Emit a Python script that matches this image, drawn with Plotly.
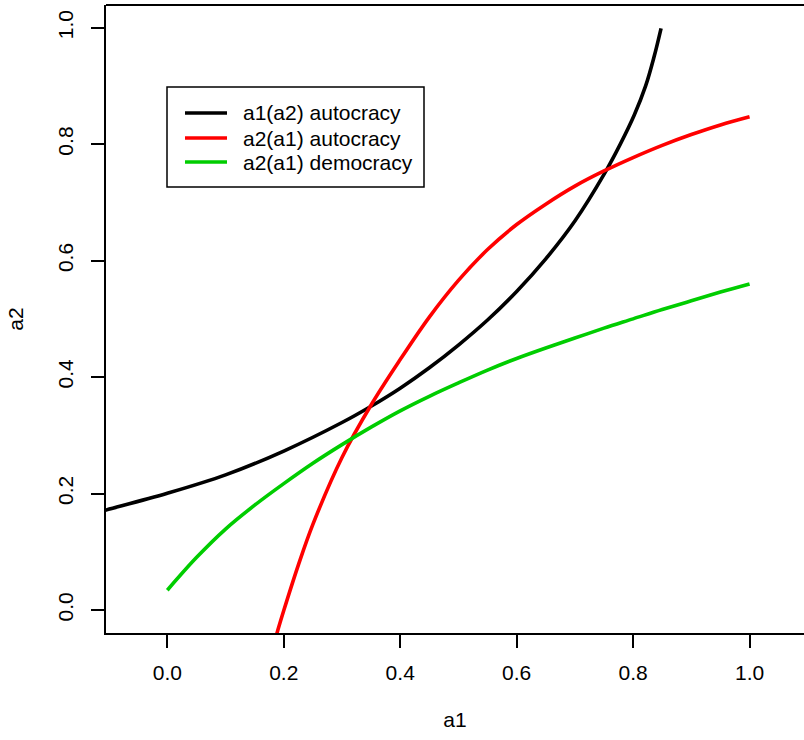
import plotly.graph_objects as go

# ---- data ----
red_a1 = [0.155, 0.170, 0.190, 0.200, 0.225, 0.250, 0.300, 0.350, 0.400, 0.450,
          0.500, 0.550, 0.600, 0.650, 0.700, 0.750, 0.800, 0.850, 0.900, 0.950, 1.000]
red_a2 = [-0.158, -0.104, -0.034, -0.001, 0.077, 0.147, 0.262, 0.352, 0.430, 0.503,
          0.566, 0.619, 0.662, 0.697, 0.728, 0.754, 0.777, 0.798, 0.8165, 0.833, 0.847]

black_a1 = [-0.160, -0.1053, 0.000, 0.100, 0.200, 0.300, 0.350, 0.400, 0.450, 0.500,
            0.550, 0.600, 0.650, 0.700, 0.750, 0.778, 0.802, 0.8215, 0.836, 0.848]
black_a2 = [0.157, 0.1717, 0.2004, 0.232, 0.273, 0.322, 0.350, 0.381, 0.416, 0.455,
            0.498, 0.547, 0.603, 0.668, 0.748, 0.800, 0.850, 0.900, 0.950, 0.999]

green_a1 = [0.00, 0.05, 0.10, 0.15, 0.20, 0.25, 0.30, 0.35, 0.40, 0.45, 0.50,
            0.55, 0.60, 0.65, 0.70, 0.75, 0.80, 0.85, 0.90, 0.95, 1.00]
green_a2 = [0.034, 0.090, 0.139, 0.180, 0.217, 0.252, 0.284, 0.314, 0.342, 0.367, 0.390,
            0.412, 0.432, 0.450, 0.467, 0.484, 0.500, 0.516, 0.531, 0.546, 0.560]

names = ["a1(a2) autocracy", "a2(a1) autocracy", "a2(a1) democracy"]
colors = ["#000000", "#FF0000", "#00CD00"]
tick_vals = [0.0, 0.2, 0.4, 0.6, 0.8, 1.0]
tick_text = ["0.0", "0.2", "0.4", "0.6", "0.8", "1.0"]

FONT = "Liberation Sans, Arial, sans-serif"
W, H = 804, 740
ML, MR, MT, MB = 106, 0, 5, 107
PW, PH = W - ML - MR, H - MT - MB


def px(x):
    return (x - ML) / PW


def py(y):
    return (H - MB - y) / PH


fig = go.Figure()
series = [(black_a1, black_a2), (red_a1, red_a2), (green_a1, green_a2)]
for (xs, ys), n, c in zip(series, names, colors):
    fig.add_trace(go.Scatter(x=xs, y=ys, mode="lines", name=n,
                             line=dict(color=c, width=3.6, shape="spline", smoothing=1.0),
                             showlegend=False))

axis_common = dict(showline=True, linecolor="black", linewidth=2, ticks="outside",
                   ticklen=13, tickwidth=2, tickcolor="black", showgrid=False,
                   zeroline=False, tickvals=tick_vals, ticktext=tick_text,
                   tickfont=dict(family=FONT, size=21, color="black"))

fig.update_layout(
    width=W, height=H, autosize=False,
    margin=dict(l=ML, r=MR, t=MT, b=MB),
    plot_bgcolor="white", paper_bgcolor="white",
    xaxis=dict(range=[-0.1053, 1.0935], ticklabelstandoff=7,
               title=dict(text="a1", font=dict(family=FONT, size=21, color="black"), standoff=29),
               **axis_common),
    yaxis=dict(range=[-0.0395, 1.039], tickangle=-90, ticklabelstandoff=10,
               title=dict(text="a2", font=dict(family=FONT, size=21, color="black"), standoff=24),
               **axis_common),
)

# top border of the box (right side falls outside the window)
fig.add_shape(type="line", xref="paper", yref="paper", x0=0, x1=1, y0=1, y1=1,
              line=dict(color="black", width=2))

# legend box
fig.add_shape(type="rect", xref="paper", yref="paper",
              x0=px(167), x1=px(424), y0=py(187), y1=py(87),
              line=dict(color="black", width=1.5), fillcolor="white", layer="above")
rows = [113, 138, 162]
for n, c, r in zip(names, colors, rows):
    fig.add_shape(type="line", xref="paper", yref="paper",
                  x0=px(185), x1=px(227), y0=py(r), y1=py(r),
                  line=dict(color=c, width=3.6), layer="above")
    fig.add_annotation(xref="paper", yref="paper", x=px(241), y=py(r),
                       text=n, showarrow=False, xanchor="left", yanchor="middle",
                       font=dict(family=FONT, size=21, color="black"))

fig.write_html("out.html")
